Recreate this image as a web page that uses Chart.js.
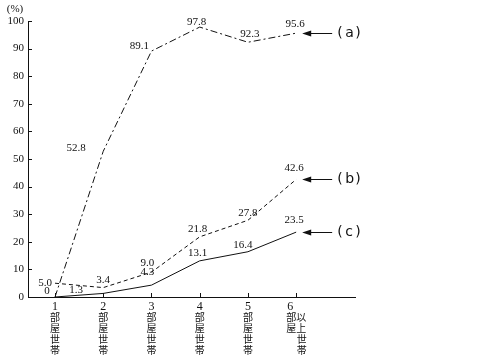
<!DOCTYPE html>
<html>
<head>
<meta charset="utf-8">
<script src="https://cdn.jsdelivr.net/npm/chart.js@4"></script>
<style>
  html, body { margin: 0; padding: 0; background: #fff; }
  #wrap { width: 480px; height: 362px; }
</style>
</head>
<body>
<div id="wrap"><canvas id="chart" width="480" height="362"></canvas></div>
<script>
// categories (room counts) and their vertical tick labels
const categories = [1, 2, 3, 4, 5, 6];
const tickLabels = [
    ['1', '部', '屋', '世', '帯'],
    ['2', '部', '屋', '世', '帯'],
    ['3', '部', '屋', '世', '帯'],
    ['4', '部', '屋', '世', '帯'],
    ['5', '部', '屋', '世', '帯'],
    ['6\u3000', '部以', '屋上', '\u3000世', '\u3000帯']
];
const yTicks = [0, 10, 20, 30, 40, 50, 60, 70, 80, 90, 100];

// series values (%)
const seriesA = [0, 52.8, 89.1, 97.8, 92.3, 95.6];
const seriesB = [5.0, 3.4, 9.0, 21.8, 27.8, 42.6];
const seriesC = [0, 1.3, 4.3, 13.1, 16.4, 23.5];

// printed value labels (null = no label)
const textA = ['0', '52.8', '89.1', '97.8', '92.3', '95.6'];
const textB = ['5.0', '3.4', '9.0', '21.8', '27.8', '42.6'];
const textC = [null, '1.3', '4.3', '13.1', '16.4', '23.5'];
const seriesNames = ['a', 'b', 'c'];

// label offsets relative to each point (pixels)
const offA = [[-8, -6], [-27, -3], [-12, -5], [-3, -5], [2, -8], [-1, -9]];
const offB = [[-10, 0], [0, -8], [-4, -9], [-2, -8], [0, -7], [-2, -11]];
const offC = [[0, 0], [-27, -3], [-4, -13], [-2, -8], [-5, -7], [-2, -12]];

const numFont = '11px "Liberation Serif", "DejaVu Serif", serif';
const digitFont = '12px "Liberation Serif", serif';
const cjkFont = '10px "Noto Sans CJK JP", sans-serif';

function toPoints(vals) {
    return categories.map((c, i) => ({ x: c, y: vals[i] }));
}

const decor = {
    id: 'decor',
    afterDraw(chart) {
        const ctx = chart.ctx;
        const xs = chart.scales.x;
        const ys = chart.scales.y;
        ctx.save();
        ctx.strokeStyle = '#111';
        ctx.fillStyle = '#111';
        ctx.lineWidth = 1;
        ctx.setLineDash([]);

        // inner tick marks
        ctx.beginPath();
        yTicks.forEach(v => {
            const y = Math.round(ys.getPixelForValue(v)) + 0.5;
            ctx.moveTo(xs.left, y);
            ctx.lineTo(xs.left + 4, y);
        });
        categories.forEach(c => {
            const x = Math.round(xs.getPixelForValue(c)) + 0.5;
            ctx.moveTo(x, ys.bottom);
            ctx.lineTo(x, ys.bottom - 4);
        });
        ctx.stroke();

        // vertical category labels, one character row per line
        ctx.textAlign = 'center';
        ctx.textBaseline = 'alphabetic';
        categories.forEach((c, i) => {
            const x = xs.getPixelForValue(c);
            tickLabels[i].forEach((line, j) => {
                ctx.font = j === 0 ? digitFont : cjkFont;
                let dx = 0;
                if (j === 0 && line.length > 1) dx = -6;
                if (line.startsWith('\u3000')) dx = 5.5;
                ctx.fillText(line.trim(), x + dx, ys.bottom + 13 + j * 11);
            });
        });

        // unit label
        ctx.textBaseline = 'middle';
        ctx.font = numFont;
        ctx.fillText('(%)', 15, 9);

        // value labels
        const sets = [[seriesA, textA, offA], [seriesB, textB, offB], [seriesC, textC, offC]];
        sets.forEach(([vals, texts, offs]) => {
            vals.forEach((v, i) => {
                if (texts[i] === null) return;
                const x = xs.getPixelForValue(categories[i]) + offs[i][0];
                const y = ys.getPixelForValue(v) + offs[i][1];
                ctx.fillText(texts[i], x, y);
            });
        });

        // arrows with series names
        const last = categories.length - 1;
        [seriesA, seriesB, seriesC].forEach((vals, k) => {
            const x0 = xs.getPixelForValue(categories[last]) + 6;
            const y = Math.round(ys.getPixelForValue(vals[last])) + 0.5;
            ctx.beginPath();
            ctx.moveTo(x0 + 6, y);
            ctx.lineTo(x0 + 30, y);
            ctx.stroke();
            ctx.beginPath();
            ctx.moveTo(x0, y);
            ctx.lineTo(x0 + 9, y - 3);
            ctx.lineTo(x0 + 9, y + 3);
            ctx.closePath();
            ctx.fill();
            ctx.font = '14px "DejaVu Sans", sans-serif';
            ctx.textAlign = 'left';
            ctx.fillText('(', x0 + 35, y);
            ctx.fillText(seriesNames[k], x0 + 43, y);
            ctx.fillText(')', x0 + 53, y);
            ctx.textAlign = 'center';
            ctx.font = numFont;
        });
        ctx.restore();
    }
};

const config = {
    type: 'line',
    data: {
        datasets: [{
            label: 'a',
            data: toPoints(seriesA),
            borderColor: '#111',
            borderWidth: 1,
            borderDash: [7, 3, 2, 3],
            pointRadius: 0,
            tension: 0
        }, {
            label: 'b',
            data: toPoints(seriesB),
            borderColor: '#111',
            borderWidth: 1,
            borderDash: [4, 3],
            pointRadius: 0,
            tension: 0
        }, {
            label: 'c',
            data: toPoints(seriesC),
            borderColor: '#111',
            borderWidth: 1,
            pointRadius: 0,
            tension: 0
        }]
    },
    options: {
        responsive: false,
        animation: false,
        layout: { padding: { left: 0, top: 21, right: 125, bottom: 0 } },
        plugins: {
            legend: { display: false },
            tooltip: { enabled: false }
        },
        scales: {
            x: {
                type: 'linear',
                min: 0.44,
                max: 7.22,
                afterBuildTicks: function (scale) {
                    scale.ticks = categories.map(c => ({ value: c }));
                },
                afterFit: function (scale) { scale.height = 65; },
                grid: { drawOnChartArea: false, drawTicks: false },
                border: { display: true, color: '#111', width: 1 },
                ticks: { display: false }
            },
            y: {
                min: 0,
                max: 100,
                afterBuildTicks: function (scale) {
                    scale.ticks = yTicks.map(v => ({ value: v }));
                },
                afterFit: function (scale) { scale.width = 28; },
                grid: { drawOnChartArea: false, drawTicks: false },
                border: { display: true, color: '#111', width: 1 },
                ticks: {
                    padding: 4,
                    color: '#111',
                    font: { family: '"Liberation Serif", serif', size: 11 }
                }
            }
        }
    },
    plugins: [decor]
};

new Chart(document.getElementById('chart').getContext('2d'), config);
</script>
</body>
</html>
